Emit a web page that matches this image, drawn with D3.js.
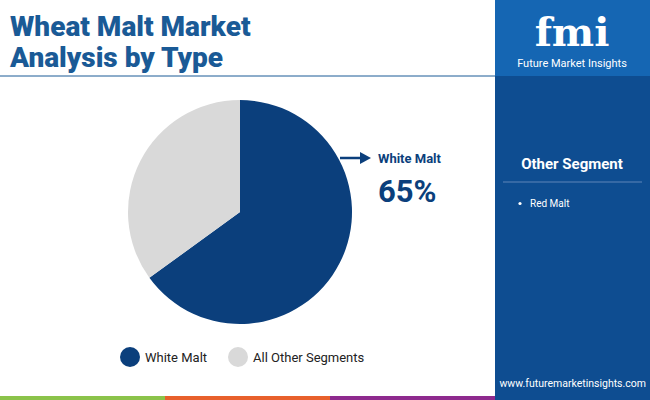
<!DOCTYPE html>
<html><head><meta charset="utf-8">
<script src="https://d3js.org/d3.v7.min.js"></script>
<style>body{margin:0}svg{font-family:Roboto,"Noto Sans",sans-serif}</style>
</head><body><svg id="c" width="650" height="400"></svg>
<script>
const categories = ["White Malt", "All Other Segments"];
const shares = [65, 35];
const colors = ["#0b3f7c", "#d9d9d9"];
const otherSegments = ["Red Malt"];
const stripColors = ["#8bc34a", "#e8602c", "#8e2a8e"];

const svg = d3.select("#c");
svg.append("rect").attr("width", 650).attr("height", 400).attr("fill", "#fff");

// right panel
svg.append("rect").attr("x", 495).attr("y", 0).attr("width", 155).attr("height", 400).attr("fill", "#0e4d91");
svg.append("rect").attr("x", 495).attr("y", 0).attr("width", 155).attr("height", 76).attr("fill", "#1566b3");
svg.append("text").attr("x", 572).attr("y", 46).attr("text-anchor", "middle")
    .attr("font-size", 40).attr("font-weight", 900).attr("fill", "#fff").attr("font-family", "DejaVu Serif").text("fmi");
svg.append("text").attr("x", 572).attr("y", 67).attr("text-anchor", "middle")
    .attr("font-size", 11).attr("fill", "#fff").text("Future Market Insights");

// title
svg.append("text").attr("x", 10).attr("y", 36).attr("font-size", 28).attr("font-weight", 900).attr("fill", "#1a5a96").text("Wheat Malt Market");
svg.append("text").attr("x", 10).attr("y", 67).attr("font-size", 28).attr("font-weight", 900).attr("fill", "#1a5a96").text("Analysis by Type");
svg.append("line").attr("x1", 0).attr("x2", 495).attr("y1", 76).attr("y2", 76).attr("stroke", "#1a5a96").attr("stroke-width", 1);

// pie
const pie = d3.pie().sort(null).value(d => d);
const arc = d3.arc().innerRadius(0).outerRadius(112);
const g = svg.append("g").attr("transform", "translate(240,212)");
g.selectAll("path").data(pie(shares)).join("path").attr("d", arc).attr("fill", (d, i) => colors[i]);

// callout
svg.append("line").attr("x1", 340).attr("x2", 362).attr("y1", 158).attr("y2", 158).attr("stroke", "#0b3f7c").attr("stroke-width", 2.5);
svg.append("path").attr("d", "M360,152 L371,158 L360,164 Z").attr("fill", "#0b3f7c");
svg.append("text").attr("x", 378).attr("y", 163).attr("font-size", 13).attr("font-weight", 700).attr("fill", "#0b3f7c").text(categories[0]);
svg.append("text").attr("x", 378).attr("y", 202).attr("font-size", 31).attr("font-weight", 700).attr("fill", "#0b3f7c").text(shares[0] + "%");

// legend
const lx = d3.scaleOrdinal().domain(categories).range([130, 238]);
const lg = svg.selectAll(".lg").data(categories).join("g").attr("transform", d => `translate(${lx(d)},357)`);
lg.append("circle").attr("r", 10).attr("fill", (d, i) => colors[i]);
lg.append("text").attr("x", 15).attr("y", 5).attr("font-size", 13).attr("fill", "#222").text(d => d);

// other segment
svg.append("text").attr("x", 572).attr("y", 169).attr("text-anchor", "middle").attr("font-size", 15).attr("font-weight", 700).attr("fill", "#fff").text("Other Segment");
svg.append("line").attr("x1", 503).attr("x2", 642).attr("y1", 182).attr("y2", 182).attr("stroke", "#5f86b8");
const os = svg.selectAll(".os").data(otherSegments).join("g").attr("transform", (d, i) => `translate(518,${207 + i * 20})`);
os.append("circle").attr("cx", 2).attr("cy", -3.5).attr("r", 1.6).attr("fill", "#fff");
os.append("text").attr("x", 12).attr("font-size", 10).attr("fill", "#fff").text(d => d);

svg.append("text").attr("x", 646).attr("y", 387).attr("text-anchor", "end").attr("font-size", 10.5).attr("fill", "#fff").text("www.futuremarketinsights.com");

// bottom strip
const sx = d3.scaleBand().domain(d3.range(stripColors.length)).range([0, 495]);
svg.selectAll(".st").data(stripColors).join("rect").attr("x", (d, i) => sx(i)).attr("y", 396)
    .attr("width", sx.bandwidth()).attr("height", 4).attr("fill", d => d);
</script></body></html>
